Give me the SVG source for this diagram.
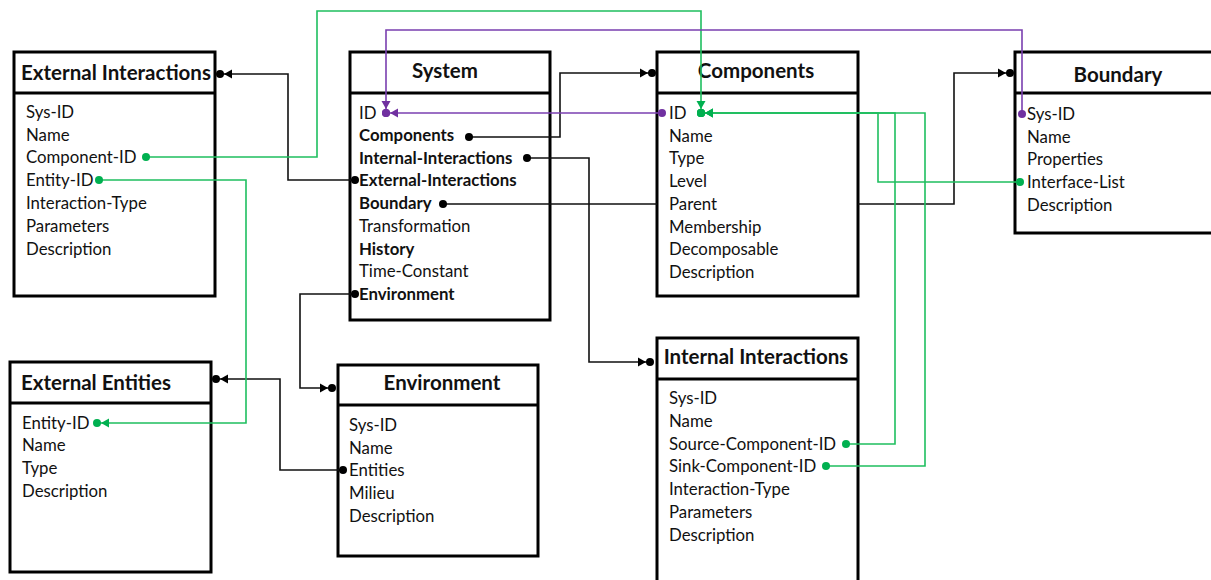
<svg xmlns="http://www.w3.org/2000/svg" width="1211" height="580" viewBox="0 0 1211 580">
  <style>
    .box { fill: #fff; stroke: #000; stroke-width: 3; }
    .sep { stroke: #000; stroke-width: 3; }
    .title { font-family: Lato, "Liberation Sans", sans-serif; font-size: 20.5px; font-weight: bold; fill: #111; text-anchor: middle; }
    .row { font-family: Lato, "Liberation Sans", sans-serif; font-size: 16.8px; fill: #111; }
    .b { font-weight: bold; }
    .c { fill: none; stroke-width: 1.6; }
    .k { stroke: #111; marker-start: url(#dotK); marker-end: url(#endK); }
    .g { stroke: #1fbf5f; marker-start: url(#dotG); marker-end: url(#endG); }
    .p { stroke: #7a3fb0; marker-start: url(#dotP); marker-end: url(#endP); }
  </style>
  <defs>
    <!-- start dot -->
    <marker id="dotK" markerUnits="userSpaceOnUse" markerWidth="10" markerHeight="10" refX="0" refY="0" viewBox="-5 -5 10 10" overflow="visible"><circle r="4" fill="#000"/></marker>
    <marker id="dotG" markerUnits="userSpaceOnUse" markerWidth="10" markerHeight="10" refX="0" refY="0" viewBox="-5 -5 10 10" overflow="visible"><circle r="4" fill="#00b050"/></marker>
    <marker id="dotP" markerUnits="userSpaceOnUse" markerWidth="10" markerHeight="10" refX="0" refY="0" viewBox="-5 -5 10 10" overflow="visible"><circle r="4" fill="#7030a0"/></marker>
    <!-- end: arrowhead followed by a dot -->
    <marker id="endK" markerUnits="userSpaceOnUse" markerWidth="20" markerHeight="12" refX="0" refY="0" viewBox="-15 -6 20 12" orient="auto" overflow="visible"><path d="M-12,-4.5 L-4,0 L-12,4.5 Z" fill="#000"/><circle r="4" fill="#000"/></marker>
    <marker id="endG" markerUnits="userSpaceOnUse" markerWidth="20" markerHeight="12" refX="0" refY="0" viewBox="-15 -6 20 12" orient="auto" overflow="visible"><path d="M-12,-4.5 L-4,0 L-12,4.5 Z" fill="#00b050"/><circle r="4" fill="#00b050"/></marker>
    <marker id="endP" markerUnits="userSpaceOnUse" markerWidth="20" markerHeight="12" refX="0" refY="0" viewBox="-15 -6 20 12" orient="auto" overflow="visible"><path d="M-12,-4.5 L-4,0 L-12,4.5 Z" fill="#7030a0"/><circle r="4" fill="#7030a0"/></marker>
  </defs>

  <g id="external-interactions">
    <rect class="box" x="14" y="52" width="201" height="244"/>
    <line class="sep" x1="14" y1="93" x2="215" y2="93"/>
    <text class="title" x="116" y="80">External Interactions</text>
    <text class="row" x="26" y="118">Sys-ID</text>
    <text class="row" x="26" y="141">Name</text>
    <text class="row" x="26" y="163">Component-ID</text>
    <text class="row" x="26" y="186">Entity-ID</text>
    <text class="row" x="26" y="209">Interaction-Type</text>
    <text class="row" x="26" y="232">Parameters</text>
    <text class="row" x="26" y="255">Description</text>
  </g>

  <g id="system">
    <rect class="box" x="350" y="52" width="200" height="268"/>
    <line class="sep" x1="350" y1="93" x2="550" y2="93"/>
    <text class="title" x="445" y="78">System</text>
    <text class="row" x="359" y="119">ID</text>
    <text class="row b" x="359" y="141">Components</text>
    <text class="row b" x="359" y="164">Internal-Interactions</text>
    <text class="row b" x="359" y="186">External-Interactions</text>
    <text class="row b" x="359" y="209">Boundary</text>
    <text class="row" x="359" y="232">Transformation</text>
    <text class="row b" x="359" y="255">History</text>
    <text class="row" x="359" y="277">Time-Constant</text>
    <text class="row b" x="359" y="300">Environment</text>
  </g>

  <g id="components">
    <rect class="box" x="657" y="52" width="201" height="244"/>
    <line class="sep" x1="657" y1="93" x2="858" y2="93"/>
    <text class="title" x="756" y="78">Components</text>
    <text class="row" x="669" y="119">ID</text>
    <text class="row" x="669" y="142">Name</text>
    <text class="row" x="669" y="164">Type</text>
    <text class="row" x="669" y="187">Level</text>
    <text class="row" x="669" y="210">Parent</text>
    <text class="row" x="669" y="233">Membership</text>
    <text class="row" x="669" y="255">Decomposable</text>
    <text class="row" x="669" y="278">Description</text>
  </g>

  <g id="boundary">
    <rect class="box" x="1015" y="52" width="205" height="181"/>
    <line class="sep" x1="1015" y1="93" x2="1220" y2="93"/>
    <text class="title" x="1118" y="82">Boundary</text>
    <text class="row" x="1027" y="120">Sys-ID</text>
    <text class="row" x="1027" y="143">Name</text>
    <text class="row" x="1027" y="165">Properties</text>
    <text class="row" x="1027" y="188">Interface-List</text>
    <text class="row" x="1027" y="211">Description</text>
  </g>

  <g id="external-entities">
    <rect class="box" x="10" y="362" width="201" height="210"/>
    <line class="sep" x1="10" y1="403" x2="211" y2="403"/>
    <text class="title" x="96" y="390">External Entities</text>
    <text class="row" x="22" y="429">Entity-ID</text>
    <text class="row" x="22" y="451">Name</text>
    <text class="row" x="22" y="474">Type</text>
    <text class="row" x="22" y="497">Description</text>
  </g>

  <g id="environment">
    <rect class="box" x="338" y="365" width="200" height="191"/>
    <line class="sep" x1="338" y1="405" x2="538" y2="405"/>
    <text class="title" x="442" y="390">Environment</text>
    <text class="row" x="349" y="431">Sys-ID</text>
    <text class="row" x="349" y="454">Name</text>
    <text class="row" x="349" y="476">Entities</text>
    <text class="row" x="349" y="499">Milieu</text>
    <text class="row" x="349" y="522">Description</text>
  </g>

  <g id="internal-interactions">
    <rect class="box" x="657" y="338" width="201" height="252"/>
    <line class="sep" x1="657" y1="379" x2="858" y2="379"/>
    <text class="title" x="756" y="364">Internal Interactions</text>
    <text class="row" x="669" y="404">Sys-ID</text>
    <text class="row" x="669" y="427">Name</text>
    <text class="row" x="669" y="450">Source-Component-ID</text>
    <text class="row" x="669" y="472">Sink-Component-ID</text>
    <text class="row" x="669" y="495">Interaction-Type</text>
    <text class="row" x="669" y="518">Parameters</text>
    <text class="row" x="669" y="541">Description</text>
  </g>

  <g id="connectors">
    <!-- System links (black) -->
    <path class="c k" d="M355,180 H288 V74 H220"/>
    <path class="c k" d="M469,137 H560 V73 H652"/>
    <path class="c k" d="M527,158 H589 V362 H650"/>
    <path class="c k" d="M443,204 H657 M858,204 H954 V73 H1010"/>
    <path class="c k" d="M355,294 H300 V388 H332"/>
    <path class="c k" d="M343,470 H280 V379 H216"/>
    <!-- Component / entity keys (green) -->
    <path class="c g" d="M146,157 H317 V11 H701 V113"/>
    <path class="c g" d="M99,180 H246 V423 H97"/>
    <path class="c g" d="M1020,182 H878 V113 H701"/>
    <path class="c g" d="M846,444 H895 V113 H701"/>
    <path class="c g" d="M826,466 H925 V113 H701"/>
    <!-- System ID keys (purple) -->
    <path class="c p" d="M662,113 H386"/>
    <path class="c p" d="M1022,114 V30 H386 V113"/>
  </g>
</svg>
